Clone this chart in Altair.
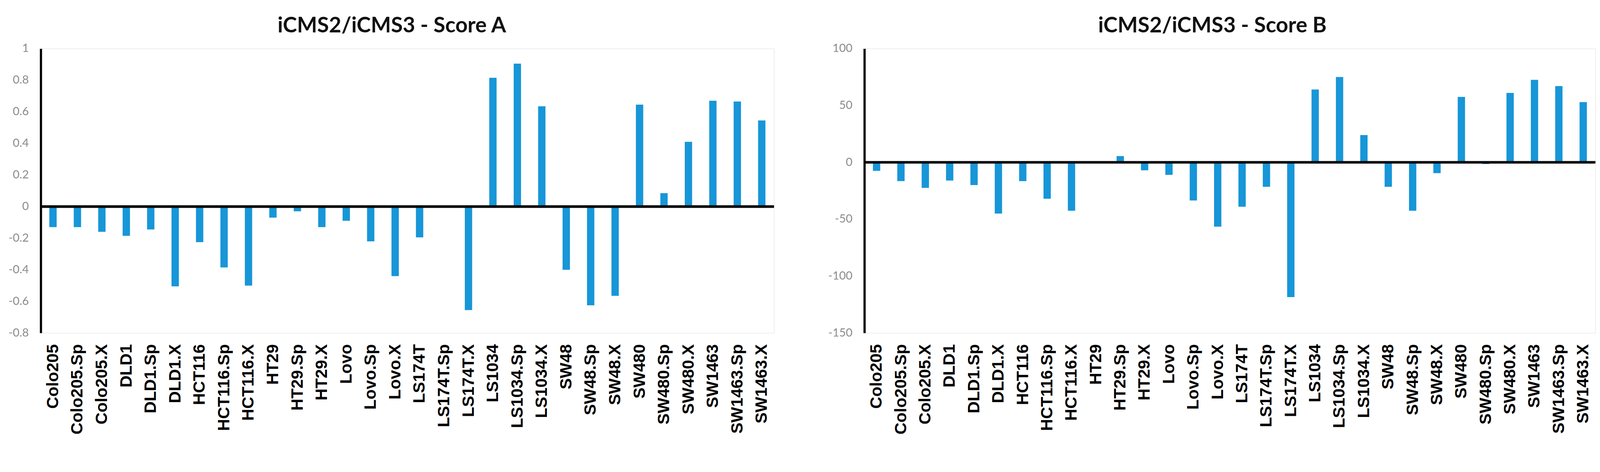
import altair as alt
import pandas as pd

categories = ["Colo205", "Colo205.Sp", "Colo205.X", "DLD1", "DLD1.Sp", "DLD1.X",
              "HCT116", "HCT116.Sp", "HCT116.X", "HT29", "HT29.Sp", "HT29.X",
              "Lovo", "Lovo.Sp", "Lovo.X", "LS174T", "LS174T.Sp", "LS174T.X",
              "LS1034", "LS1034.Sp", "LS1034.X", "SW48", "SW48.Sp", "SW48.X",
              "SW480", "SW480.Sp", "SW480.X", "SW1463", "SW1463.Sp", "SW1463.X"]

score_a = [-0.13, -0.13, -0.16, -0.185, -0.145, -0.505,
           -0.225, -0.385, -0.50, -0.07, -0.03, -0.13,
           -0.09, -0.22, -0.44, -0.195, -0.007, -0.655,
           0.815, 0.905, 0.635, -0.40, -0.625, -0.565,
           0.645, 0.085, 0.41, 0.67, 0.665, 0.545]

score_b = [-7.5, -16.5, -22.5, -16, -20, -45,
           -16.5, -32, -42.5, 0, 5.5, -7,
           -11, -33.5, -56.5, -39, -21.5, -118.5,
           64, 75, 24, -21.5, -42.5, -9.5,
           57.5, -1.5, 61, 72.5, 67, 53]

ticks_a = [1, 0.8, 0.6, 0.4, 0.2, 0, -0.2, -0.4, -0.6, -0.8]
ticks_b = [100, 50, 0, -50, -100, -150]

title_a = "iCMS2/iCMS3 - Score A"
title_b = "iCMS2/iCMS3 - Score B"

BLUE = "#1796D8"


def panel(values, title, domain, ticks, width):
    df = pd.DataFrame({"cat": categories, "v": values})
    bars = alt.Chart(df).mark_bar(color=BLUE, width=alt.RelativeBandSize(0.3)).encode(
        x=alt.X("cat:N", sort=categories,
                scale=alt.Scale(paddingInner=0, paddingOuter=0),
                axis=alt.Axis(title=None, labelAngle=270, domain=False, ticks=False,
                              labelFont="Liberation Sans", labelFontWeight="bold",
                              labelFontSize=45, labelColor="black", labelPadding=30,
                              labelLimit=400, labelOverlap=False)),
        y=alt.Y("v:Q",
                scale=alt.Scale(domain=domain, nice=False),
                axis=alt.Axis(title=None, values=ticks, grid=False, ticks=False, tickSize=0,
                              domainColor="black", domainWidth=6,
                              labelColor="#8c8c8c", labelFont="Lato", labelFontSize=31,
                              labelPadding=33, labelFlush=False, labelOverlap=False,
                              labelExpr="replace(format(datum.value, '.1~f'), '\u2212', '-')")),
    )
    zero = alt.Chart(pd.DataFrame({"z": [0]})).mark_rule(color="black", strokeWidth=7).encode(
        y="z:Q"
    )
    return alt.layer(bars, zero).properties(
        width=width, height=771,
        title=alt.Title(title, anchor="middle", frame="bounds", font="Lato",
                        fontSize=58, fontWeight="bold", color="#111111", offset=16),
    )


left = panel(score_a, title_a, [-0.8, 1], ticks_a, 1987)
right = panel(score_b, title_b, [-150, 100], ticks_b, 1981)

chart = alt.hconcat(left, right, spacing=142).properties(
    padding={"left": 13, "top": -1, "right": 0, "bottom": 0}
).configure_view(stroke=None).configure(background="white")

chart.save("out.html", embed_options={"renderer": "svg", "actions": False})
